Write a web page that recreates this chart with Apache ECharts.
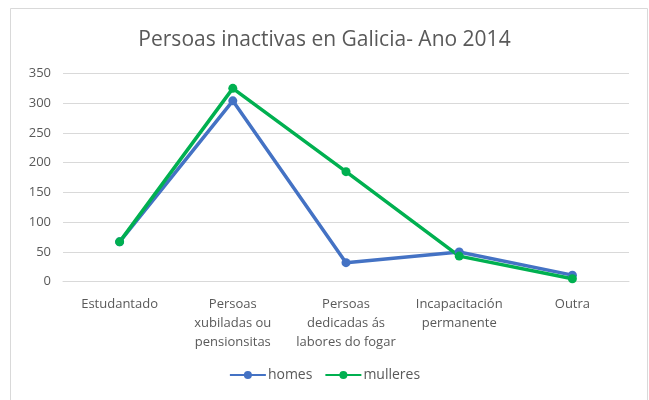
<!DOCTYPE html>
<html><head><meta charset="utf-8">
<script src="https://cdn.jsdelivr.net/npm/echarts@6/dist/echarts.min.js"></script>
<style>html,body{margin:0;padding:0;background:#fff}#c{width:649px;height:400px}</style>
</head><body><div id="c"></div>
<script>
const categories = ["Estudantado", "Persoas\nxubiladas ou\npensionsitas", "Persoas\ndedicadas ás\nlabores do fogar", "Incapacitación\npermanente", "Outra"];
const homes = [67, 304, 32, 50, 11];
const mulleres = [67, 325, 185, 43, 5];
const yTicks = { min: 0, max: 350, interval: 50 };

const chart = echarts.init(document.getElementById('c'), null, { renderer: 'canvas' });
const font = 'Open Sans';
chart.setOption({
  animation: false,
  backgroundColor: '#fff',
  graphic: [{ type: 'rect', shape: { x: 10.5, y: 8.5, width: 637, height: 400 }, style: { fill: 'none', stroke: '#d9d9d9', lineWidth: 1 }, silent: true }],
  title: { text: 'Persoas inactivas en Galicia- Ano 2014', left: 'center', top: 25, textStyle: { fontFamily: font, fontWeight: 'normal', fontSize: 21, color: '#595959' } },
  grid: { left: 63, right: 20, top: 73.5, bottom: 118.3, containLabel: false },
  legend: { bottom: 13, left: 'center', itemWidth: 36, itemHeight: 10, itemGap: 12, textStyle: { fontFamily: font, fontSize: 14, color: '#595959', padding: [0, 0, 0, -3] }, data: ['homes', 'mulleres'] },
  xAxis: { type: 'category', data: categories, boundaryGap: true, axisLine: { show: true, lineStyle: { color: '#d9d9d9' } }, axisTick: { show: false },
    axisLabel: { interval: 0, margin: 13, lineHeight: 19, fontFamily: font, fontSize: 13, color: '#595959' } },
  yAxis: { type: 'value', min: yTicks.min, max: yTicks.max, interval: yTicks.interval, axisLine: { show: false }, axisTick: { show: false },
    splitLine: { lineStyle: { color: '#d9d9d9' } }, axisLabel: { margin: 12, fontFamily: font, fontSize: 13, color: '#595959' } },
  series: [
    { name: 'homes', type: 'line', data: homes, symbol: 'circle', symbolSize: 9, itemStyle: { color: '#4472C4' }, lineStyle: { width: 3.5, color: '#4472C4' } },
    { name: 'mulleres', type: 'line', data: mulleres, symbol: 'circle', symbolSize: 9, itemStyle: { color: '#00B050' }, lineStyle: { width: 3.5, color: '#00B050' } }
  ]
});
</script></body></html>
